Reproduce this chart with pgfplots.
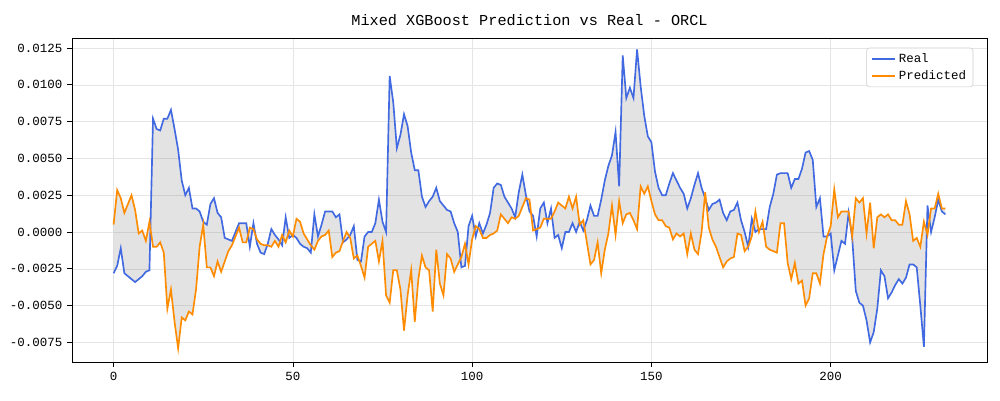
\documentclass[border=0pt]{standalone}
\usepackage{pgfplots}
\pgfplotsset{compat=1.18}
\usepackage{pgfplotstable}
\usepgfplotslibrary{fillbetween}
\usetikzlibrary{calc}
\usepackage{fontspec}
\setmainfont{Liberation Mono}
\definecolor{realc}{HTML}{4169E1}
\definecolor{predc}{HTML}{FF8C00}
\pgfplotstableread{
r p
-2.8 0.5
-2.3 2.85
-1.1 2.3
-2.8 1.3
-3.0 1.9
-3.2 2.5
-3.4 1.5
-3.2 -0.1
-3.0 0.1
-2.7 -0.6
-2.6 0.7
7.7 -1.0
7.0 -1.0
6.9 -0.7
7.7 -1.4
7.7 -5.2
8.3 -3.9
7.0 -6.1
5.6 -7.9
3.5 -5.8
2.5 -6.0
3.0 -5.4
1.6 -5.6
1.6 -3.9
1.4 -1.0
0.7 0.5
0.5 -2.4
1.9 -2.4
2.3 -3.0
1.3 -2.0
1.0 -2.7
-0.4 -2.0
-0.5 -1.3
-0.6 -0.9
0.0 -0.3
0.6 0.3
0.6 -0.7
0.6 -0.7
-1.0 0.3
0.6 0.2
-0.8 -0.5
-1.4 -0.8
-1.5 -0.9
-0.8 -0.9
0.2 -1.0
-0.2 -0.6
-0.5 -1.0
-0.9 -0.2
1.0 -0.7
-0.4 0.1
-0.2 -0.3
-0.4 0.9
-0.8 0.7
-1.0 -0.1
-1.1 -0.5
-1.4 -0.9
1.2 -1.2
-0.3 -0.6
0.5 -0.3
1.4 -0.2
1.4 0.1
1.4 -1.7
1.0 -1.4
1.2 -1.3
-0.7 -0.6
-0.5 0.0
-0.2 -0.4
0.4 -1.8
-1.9 -1.6
-2.0 -2.3
-0.3 -3.1
0.0 -1.0
0.0 -0.8
0.6 -0.6
2.2 -2.0
0.7 -0.6
0.0 -4.3
10.6 -4.8
8.8 -2.6
5.7 -2.6
6.6 -3.9
8.0 -6.7
7.2 -4.3
5.4 -2.6
4.2 -6.1
4.2 -3.2
2.4 -1.6
1.7 -2.4
2.1 -2.6
2.4 -5.4
3.0 -1.2
2.1 -3.5
1.8 -4.3
1.5 -1.5
1.4 -1.8
0.6 -2.7
0.0 -2.2
-2.4 -1.7
-2.3 -0.8
0.4 -2.2
1.1 -0.5
-0.3 0.4
0.6 0.2
-0.1 -0.4
0.5 -0.4
1.3 -0.2
3.0 -0.1
3.3 0.1
3.2 1.2
2.4 0.9
2.0 0.6
1.6 1.0
1.0 0.9
2.7 1.1
3.9 1.7
2.5 2.3
1.4 2.2
1.1 0.1
-0.3 0.2
1.6 0.3
2.0 0.9
0.6 0.9
1.6 0.9
-0.4 1.4
-0.2 2.0
-1.1 1.8
0.0 1.6
0.0 2.4
0.6 1.6
0.0 2.4
0.7 0.5
0.1 0.8
0.8 -0.7
1.8 -2.2
1.1 -1.9
1.1 -0.7
2.2 -2.8
3.5 -1.2
4.5 -0.1
5.2 1.8
6.8 -0.2
3.1 2.1
12.0 0.6
9.1 1.2
9.8 1.3
9.1 0.8
12.4 0.2
9.9 3.1
7.9 2.6
6.5 3.1
6.1 2.1
4.1 1.2
3.0 0.8
2.5 0.8
2.5 0.4
3.3 0.3
4.0 -0.5
3.5 -0.1
3.0 -0.3
2.6 -0.1
1.6 -1.5
2.3 -0.1
3.2 -1.2
4.0 -1.5
3.0 0.0
2.3 2.7
1.5 0.3
1.9 -0.5
2.0 -1.0
2.2 -1.7
1.3 -2.4
0.8 -2.0
1.4 -1.8
1.5 -1.7
2.0 -0.1
0.8 -0.2
0.0 -1.3
-1.0 -1.0
0.9 -0.3
0.0 1.4
0.2 0.0
0.2 0.7
0.2 -1.0
1.7 -1.2
2.6 -1.3
3.9 -1.4
4.0 0.6
4.0 0.6
4.0 -2.1
3.0 -3.2
3.6 -2.1
3.6 -3.5
4.3 -3.3
5.4 -5.0
5.5 -4.5
4.9 -2.8
1.7 -2.8
2.3 -3.5
-0.3 -1.5
-0.3 -0.3
-0.1 0.4
-2.6 2.9
-1.6 1.0
-0.6 1.4
-0.8 1.4
1.3 1.4
-0.4 -0.3
-4.0 2.3
-4.8 2.0
-5.0 2.3
-6.0 -0.1
-7.5 2.0
-6.8 -1.1
-5.2 1.0
-2.6 1.2
-3.0 1.0
-4.5 1.2
-4.1 0.8
-3.6 0.8
-3.2 0.5
-3.5 0.5
-3.1 2.1
-2.2 1.2
-2.2 -0.6
-2.4 -0.4
-5.0 -1.0
-7.8 0.7
1.8 -0.2
0.0 1.6
1.0 1.6
2.2 2.6
1.4 1.6
1.2 1.6
}\data
\begin{document}
\begin{tikzpicture}[font=\fontsize{9}{11}\selectfont]
\begin{axis}[
  scale only axis, width=658.8bp, height=233.3bp,
  xmin=-11.6, xmax=243.6, ymin=-0.00883, ymax=0.01318,
  xtick={0,50,100,150,200},
  ytick={-0.0075,-0.005,-0.0025,0,0.0025,0.005,0.0075,0.01,0.0125},
  xtick pos=bottom, ytick pos=left,
  /pgf/number format/assume math mode=true,
  yticklabel style={/pgf/number format/.cd, fixed, fixed zerofill, precision=4},
  scaled y ticks=false,
  grid=major, grid style={gray!20, line width=0.4pt},
  tick align=outside, tick style={black, line width=0.5pt},
  major tick length=3.5bp,
  title={Mixed XGBoost Prediction vs Real - ORCL},
  title style={font=\fontsize{11}{13}\selectfont, yshift=-1bp},
  legend style={draw=gray!40, rounded corners=2pt, font=\fontsize{9}{11}\selectfont, legend cell align=left, at={(0.985,0.97)}, anchor=north east},
]
\addplot[name path=R, realc, line width=1.2pt] table[x expr=\coordindex, y expr=\thisrow{r}/1000] {\data};
\addlegendentry{Real}
\addplot[name path=P, predc, line width=1.2pt] table[x expr=\coordindex, y expr=\thisrow{p}/1000] {\data};
\addlegendentry{Predicted}
\addplot[gray, fill opacity=0.22, draw=none, forget plot] fill between[of=R and P];
\end{axis}
\pgfresetboundingbox
\path[use as bounding box] ($(current axis.south west)+(-51.84bp,-27.36bp)$) rectangle ($(current axis.north east)+(9.36bp,27.36bp)$);
\end{tikzpicture}
\end{document}
